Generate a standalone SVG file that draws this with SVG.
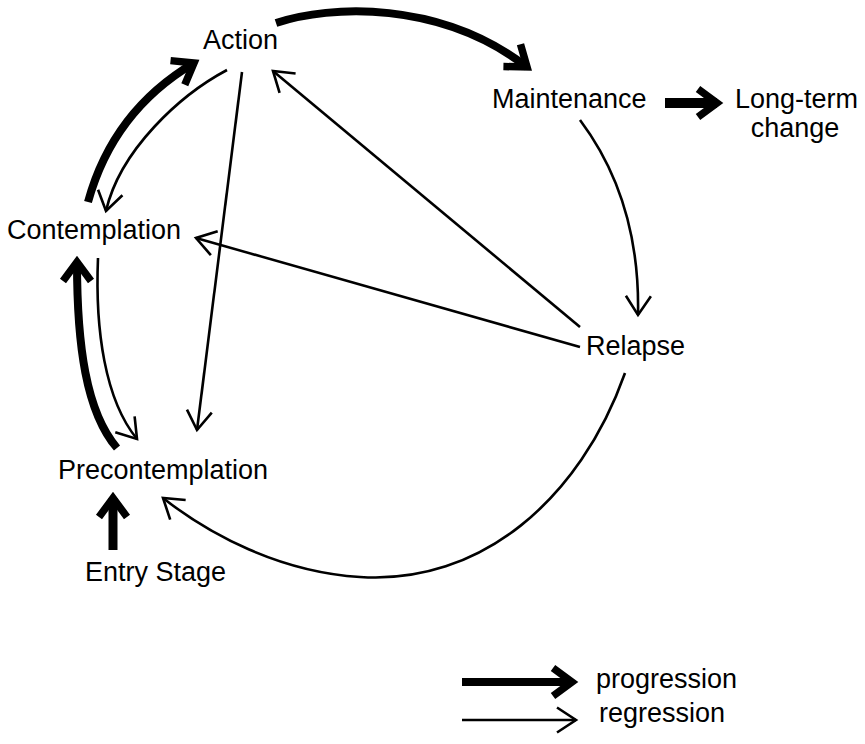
<svg xmlns="http://www.w3.org/2000/svg" width="865" height="744" viewBox="0 0 865 744">
<style>
  text { font-family: "Liberation Sans", Arial, Helvetica, sans-serif; font-size: 27px; fill: #000; }
  .thick { fill: none; stroke: #000; stroke-width: 8; }
  .thin { fill: none; stroke: #000; stroke-width: 2.6; }
</style>
<defs>
  <marker id="headThick" markerUnits="userSpaceOnUse" viewBox="-30 -20 40 40" refX="0" refY="0" markerWidth="40" markerHeight="40" orient="auto" overflow="visible">
    <path d="M -19 -14 L 0 0 L -19 14" fill="none" stroke="#000" stroke-width="7.5" stroke-linejoin="miter" stroke-miterlimit="10"/>
  </marker>
  <marker id="headThin" markerUnits="userSpaceOnUse" viewBox="-30 -20 40 40" refX="0" refY="0" markerWidth="40" markerHeight="40" orient="auto" overflow="visible">
    <path d="M -19 -12.5 L 0 0 L -19 12.5" fill="none" stroke="#000" stroke-width="2.6" stroke-linejoin="miter" stroke-miterlimit="10"/>
  </marker>
</defs>
<rect width="865" height="744" fill="#fff"/>

<g id="connectors">
  <!-- progression (thick) -->
  <path id="action-maintenance" class="thick" d="M 276 23 C 330 5, 440 0, 527 67" marker-end="url(#headThick)"/>
  <path id="maintenance-longterm" class="thick" style="stroke-width:10" d="M 665 103 L 717 103" marker-end="url(#headThick)"/>
  <path id="contemplation-action" class="thick" d="M 88 202 C 105 140, 140 95, 194 63" marker-end="url(#headThick)"/>
  <path id="precontemplation-contemplation" class="thick" d="M 117 448 C 86 412, 77 345, 77 262" marker-end="url(#headThick)"/>
  <path id="entry-precontemplation" class="thick" style="stroke-width:9" d="M 113 550 L 113 498" marker-end="url(#headThick)"/>
  <!-- regression (thin) -->
  <path id="maintenance-relapse" class="thin" d="M 580 120 C 610 160, 640 220, 638 315" marker-end="url(#headThin)"/>
  <path id="relapse-action" class="thin" d="M 580 327 L 273 71" marker-end="url(#headThin)"/>
  <path id="relapse-contemplation" class="thin" d="M 580 347 L 196 238" marker-end="url(#headThin)"/>
  <path id="action-precontemplation" class="thin" d="M 242 72 L 197 430" marker-end="url(#headThin)"/>
  <path id="action-contemplation" class="thin" d="M 227 70 C 180 95, 120 150, 106 211" marker-end="url(#headThin)"/>
  <path id="contemplation-precontemplation" class="thin" d="M 98 258 C 95 330, 105 400, 137 439" marker-end="url(#headThin)"/>
  <path id="relapse-precontemplation" class="thin" d="M 625 373 C 580 500, 480 585, 360 577 C 280 572, 210 535, 163 498" marker-end="url(#headThin)"/>
</g>

<g id="action"><text x="203" y="49">Action</text></g>
<g id="maintenance"><text x="492" y="108">Maintenance</text></g>
<g id="longterm"><text x="735" y="108">Long-term</text><text x="795" y="137" text-anchor="middle">change</text></g>
<g id="contemplation"><text x="7" y="239">Contemplation</text></g>
<g id="relapse"><text x="586" y="355">Relapse</text></g>
<g id="precontemplation"><text x="58" y="479">Precontemplation</text></g>
<g id="entry"><text x="85" y="581">Entry Stage</text></g>

<g id="legend">
  <path class="thick" d="M 462 682 L 572 682" marker-end="url(#headThick)"/>
  <text x="596" y="688">progression</text>
  <path class="thin" d="M 462 720 L 576 720" marker-end="url(#headThin)"/>
  <text x="599" y="722">regression</text>
</g>
</svg>
